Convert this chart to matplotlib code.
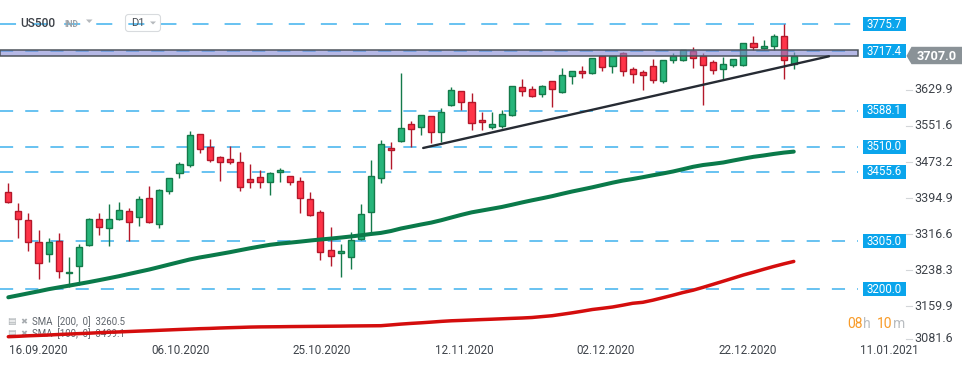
import matplotlib
matplotlib.use('Agg')
import matplotlib.pyplot as plt
from matplotlib.patches import Rectangle, Polygon, FancyBboxPatch

plt.rcParams['font.family'] = ['Roboto', 'DejaVu Sans']

# ---------------- data ----------------
opens = [3410.7, 3369.4, 3349.9, 3302.1, 3276.0, 3304.9, 3234.7, 3250.0, 3295.6, 3352.1,
         3332.5, 3352.1, 3369.4, 3356.4, 3397.7, 3341.2, 3412.9, 3452.0, 3469.4, 3536.7,
         3508.5, 3486.8, 3482.4, 3475.9, 3439.0, 3443.3, 3432.4, 3454.2, 3445.5, 3434.6,
         3395.5, 3367.3, 3284.7, 3278.2, 3269.5, 3308.6, 3367.3, 3441.1, 3506.3, 3521.5,
         3558.5, 3551.9, 3575.8, 3541.1, 3599.7, 3630.1, 3606.2, 3567.1, 3551.9, 3554.1,
         3578.0, 3638.8, 3634.5, 3623.6, 3651.9, 3628.0, 3662.7, 3673.6, 3669.3, 3706.2,
         3684.5, 3712.7, 3677.9, 3671.4, 3684.5, 3651.9, 3697.5, 3697.5, 3717.0, 3706.2,
         3693.1, 3677.9, 3686.6, 3686.6, 3734.4, 3723.5, 3727.9, 3749.6, 3688.8]
highs = [3430.3, 3386.8, 3365.1, 3328.2, 3310.8, 3321.7, 3269.5, 3297.8, 3354.0, 3365.1,
         3384.7, 3389.0, 3376.0, 3402.0, 3424.4, 3417.2, 3442.5, 3475.9, 3543.9, 3537.5,
         3526.5, 3489.0, 3511.3, 3498.3, 3472.2, 3458.5, 3454.2, 3462.9, 3447.0, 3443.3,
         3410.7, 3372.3, 3335.3, 3298.4, 3323.8, 3385.3, 3480.9, 3524.3, 3520.0, 3669.3,
         3565.6, 3579.0, 3576.5, 3593.2, 3638.8, 3631.0, 3625.8, 3584.5, 3584.5, 3588.9,
         3642.0, 3656.2, 3641.0, 3643.2, 3652.5, 3680.1, 3674.5, 3684.5, 3703.0, 3707.0,
         3707.0, 3714.9, 3682.3, 3675.8, 3699.7, 3698.5, 3712.7, 3720.0, 3725.7, 3712.7,
         3697.5, 3704.0, 3700.5, 3735.0, 3749.6, 3740.9, 3754.0, 3775.7, 3714.9]
lows = [3386.8, 3312.1, 3283.8, 3221.7, 3259.9, 3223.9, 3205.6, 3209.3, 3293.0, 3318.6,
        3294.7, 3350.0, 3304.9, 3338.2, 3344.0, 3333.8, 3407.7, 3441.1, 3466.3, 3495.5,
        3475.9, 3435.9, 3472.9, 3414.2, 3420.7, 3420.7, 3405.5, 3433.8, 3427.2, 3365.1,
        3359.0, 3263.6, 3251.3, 3227.4, 3244.7, 3307.0, 3321.7, 3431.6, 3460.7, 3520.0,
        3509.8, 3534.6, 3517.2, 3520.7, 3599.0, 3588.9, 3545.4, 3545.4, 3547.6, 3549.8,
        3577.0, 3619.3, 3617.1, 3617.1, 3595.4, 3627.0, 3645.4, 3658.4, 3668.0, 3674.9,
        3669.3, 3662.7, 3647.5, 3632.3, 3647.5, 3647.5, 3691.0, 3695.0, 3680.1, 3599.7,
        3667.1, 3654.0, 3682.3, 3686.0, 3719.2, 3721.4, 3719.2, 3656.2, 3677.9]
closes = [3390.3, 3352.1, 3302.1, 3256.5, 3302.1, 3239.1, 3238.2, 3291.2, 3352.1, 3334.7,
          3352.1, 3371.6, 3345.5, 3395.5, 3345.5, 3415.1, 3441.1, 3471.6, 3534.6, 3504.1,
          3480.2, 3475.9, 3475.9, 3421.6, 3432.4, 3432.4, 3452.0, 3458.5, 3432.4, 3397.7,
          3360.8, 3281.7, 3271.7, 3282.6, 3306.4, 3362.9, 3446.1, 3515.0, 3502.0, 3549.8,
          3547.6, 3578.0, 3541.1, 3584.5, 3632.3, 3606.2, 3560.6, 3562.8, 3558.5, 3580.2,
          3641.0, 3630.1, 3619.3, 3641.0, 3634.5, 3664.9, 3673.6, 3669.3, 3701.8, 3682.3,
          3706.2, 3673.6, 3667.1, 3664.9, 3654.0, 3697.5, 3706.2, 3719.2, 3701.8, 3686.6,
          3675.8, 3688.8, 3699.7, 3734.4, 3725.7, 3727.9, 3749.6, 3697.5, 3707.0]
sma100 = [3182.6, 3186.9, 3191.3, 3195.6, 3200.2, 3204.1, 3207.8, 3211.7, 3215.6, 3219.8,
          3224.1, 3228.5, 3233.4, 3238.2, 3243.0, 3248.4, 3253.9, 3259.3, 3264.7, 3269.1,
          3272.8, 3276.7, 3280.6, 3284.9, 3289.1, 3293.0, 3296.7, 3299.3, 3301.4, 3303.6,
          3306.0, 3308.2, 3310.1, 3312.3, 3314.7, 3317.3, 3320.1, 3322.5, 3326.6, 3332.1,
          3336.4, 3340.8, 3344.9, 3350.1, 3356.0, 3361.8, 3367.1, 3371.0, 3374.9, 3378.8,
          3383.6, 3388.6, 3393.3, 3397.7, 3402.3, 3407.5, 3412.5, 3417.0, 3421.6, 3426.6,
          3431.6, 3436.1, 3439.6, 3443.5, 3447.7, 3451.6, 3455.9, 3460.9, 3466.1, 3470.0,
          3472.6, 3475.5, 3479.8, 3483.9, 3487.8, 3490.7, 3494.0, 3496.9, 3499.1]
sma200 = [3097.0, 3097.9, 3099.0, 3099.8, 3100.7, 3101.8, 3102.7, 3103.7, 3104.6, 3105.7,
          3106.6, 3107.4, 3108.3, 3109.2, 3110.0, 3110.9, 3111.8, 3112.7, 3113.5, 3114.4,
          3115.0, 3115.9, 3116.6, 3117.2, 3117.9, 3118.3, 3118.5, 3118.7, 3119.0, 3119.2,
          3119.4, 3119.6, 3119.8, 3120.0, 3120.3, 3120.5, 3120.7, 3120.9, 3122.6, 3124.4,
          3125.9, 3127.2, 3128.7, 3130.3, 3131.6, 3132.4, 3133.3, 3134.2, 3135.0, 3135.9,
          3136.8, 3137.6, 3138.7, 3140.7, 3142.6, 3145.7, 3148.9, 3152.4, 3156.1, 3158.7,
          3161.5, 3165.4, 3169.6, 3171.7, 3176.3, 3181.7, 3187.2, 3193.0, 3198.0, 3204.3,
          3210.9, 3217.6, 3224.3, 3231.1, 3237.1, 3243.4, 3249.5, 3255.2, 3260.5]

levels = [3775.7, 3717.4, 3588.1, 3510.0, 3455.6, 3305.0, 3200.0]
level_labels = ['3775.7', '3717.4', '3588.1', '3510.0', '3455.6', '3305.0', '3200.0']
zone = [3707.5, 3720.5]
price_ticks = [3629.9, 3551.6, 3473.2, 3394.9, 3316.6, 3238.3, 3159.9, 3081.6]
date_labels = ['16.09.2020', '06.10.2020', '25.10.2020', '12.11.2020',
               '02.12.2020', '22.12.2020', '11.01.2021']
date_pos = [3.0, 17.08, 31.16, 45.24, 59.32, 73.4, 87.48]
trend_x = [41.2, 81.5]
trend_y = [3507.0, 3706.2]
last_price = 3707.0
sma_legend = ['SMA  [200,  0]  3260.5', 'SMA  [100,  0]  3499.1']
symbol = 'US500'
timeframe = 'D1'

# ---------------- layout helpers ----------------
W, H = 974, 368
X0, DX = 8.3, 10.07            # pixel of first candle, pixel per candle
Y0, DY = 3828.49, 2.1725       # value at top pixel, value per pixel


def px2i(px):
    return (px - X0) / DX


fig = plt.figure(figsize=(W / 100, H / 100), dpi=100)
fig.patch.set_facecolor('white')
ax = fig.add_axes([0, 0, 1, 1])
ax.set_xlim(px2i(0), px2i(W))
ax.set_ylim(Y0 - DY * H, Y0)
ax.axis('off')

ov = fig.add_axes([0, 0, 1, 1])
ov.set_xlim(0, W)
ov.set_ylim(H, 0)
ov.axis('off')
ov.patch.set_alpha(0)

XR = px2i(858)
XL = px2i(0)

# ---------------- horizontal levels ----------------
lc = '#3fb2ee'
for lv in levels:
    dash = (0, (10.5, 10.5)) if lv == levels[0] else (0, (8.6, 7.9))
    ax.plot([XL, XR], [lv, lv], color=lc, lw=1.1, linestyle=dash, zorder=2)

# zone band
ax.add_patch(Rectangle((XL, zone[0]), XR - XL, zone[1] - zone[0],
                       facecolor='#848ad4', alpha=0.6, edgecolor='none', zorder=5))
ax.add_patch(Rectangle((XL, zone[0]), XR - XL, zone[1] - zone[0],
                       facecolor='none', edgecolor='#4d535b', lw=1.1, zorder=6))

# ---------------- candles ----------------
g_fill, g_edge = '#27b57a', '#147a4a'
r_fill, r_edge = '#ff3448', '#b3182a'
for i, (o, h, l, c) in enumerate(zip(opens, highs, lows, closes)):
    up = c >= o
    fc, ec = (g_fill, g_edge) if up else (r_fill, r_edge)
    ax.plot([i, i], [l, h], color=ec, lw=1.0, zorder=3, solid_capstyle='butt')
    lo, hi = min(o, c), max(o, c)
    ax.bar(i, max(hi - lo, 1.0), bottom=lo, width=0.6, color=fc,
           edgecolor=ec, linewidth=1.0, zorder=4)

# ---------------- moving averages & trend line ----------------
idx = list(range(len(sma100)))
ax.plot(idx, sma100, color='#0a7a4a', lw=2.9, zorder=7, solid_capstyle='round')
ax.plot(idx, sma200, color='#d40d0d', lw=2.5, zorder=7, solid_capstyle='round')
ax.plot(trend_x, trend_y, color='#262b33', lw=1.7, zorder=8, solid_capstyle='round')

# ---------------- right price scale ----------------
def vy(v):
    return (Y0 - v) / DY

for lv, lab in zip(levels, level_labels):
    y = vy(lv)
    ov.add_patch(Rectangle((862.7, y - 6.9), 43, 13.8, facecolor='#0aa5ec',
                           edgecolor='none', zorder=3))
    ov.text(884.2, y + 0.3, lab, color='white', fontsize=8.3, ha='center',
            va='center', zorder=4)

for k, pv in enumerate(price_ticks):
    y = vy(pv) - 1.5 if k < len(price_ticks) - 1 else 338.5
    ov.plot([905.5, 911.5], [y, y], color='#d3d6d9', lw=0.8, zorder=3)
    ov.text(914, y, f'{pv:.1f}', color='#3e434a', fontsize=9, ha='left',
            va='center', zorder=4)

# current price tag
yp = vy(last_price)
ov.add_patch(Polygon([(906.5, yp), (911.5, 46.8), (962, 46.8), (962, 64.2), (911.5, 64.2)],
                     closed=True, facecolor='#8a9297', edgecolor='none', zorder=5))
ov.text(937, yp + 0.3, f'{last_price:.1f}', color='white', fontsize=9.2,
        fontweight='bold', ha='center', va='center', zorder=6)

# countdown
ov.text(847, 328.5, '08', color='#f89b28', fontsize=10, ha='left', va='baseline')
ov.text(863.5, 328.5, 'h', color='#b9bdc1', fontsize=10, ha='left', va='baseline')
ov.text(876.5, 328.5, '10', color='#f89b28', fontsize=10, ha='left', va='baseline')
ov.text(892.5, 328.5, 'm', color='#b9bdc1', fontsize=10, ha='left', va='baseline')

# ---------------- date axis ----------------
for p, lab in zip(date_pos, date_labels):
    ax.text(p, Y0 - DY * 351, lab, color='#3f444b', fontsize=8.4, ha='center',
            va='center')

# ---------------- header ----------------
ov.text(20.5, 23.5, symbol, color='#3c4047', fontsize=8.5, fontweight='medium',
        ha='left', va='center', zorder=4)
ov.text(64, 24.3, 'IND', color='#9ea3a8', fontsize=6.2, fontweight='bold',
        ha='left', va='center', zorder=4)
ov.add_patch(Polygon([(86, 19.5), (92.5, 19.5), (89.25, 23)], closed=True,
                     facecolor='#b5b9bd', edgecolor='none', zorder=4))
ov.add_patch(FancyBboxPatch((125.5, 14.5), 35, 17, boxstyle='round,pad=0,rounding_size=3',
                            facecolor='none', edgecolor='#d8dbde', lw=0.8, zorder=4))
ov.text(131, 23.5, timeframe, color='#4a4f56', fontsize=8, ha='left', va='center',
        zorder=5)
ov.add_patch(Polygon([(150, 21.5), (156, 21.5), (153, 24.5)], closed=True,
                     facecolor='#b5b9bd', edgecolor='none', zorder=5))

# ---------------- SMA legend (under the lines) ----------------
for k, txt in enumerate(sma_legend):
    y = 321.5 + 11.8 * k
    ax.text(7, y, '\u25a4', transform=ov.transData, color='#a7acb0', fontsize=6.5,
            ha='left', va='center', zorder=1, family=['DejaVu Sans'])
    ax.text(20.5, y, '\u2716', transform=ov.transData, color='#a7acb0', fontsize=6,
            ha='left', va='center', zorder=1, family=['DejaVu Sans'])
    ax.text(32, y, txt, transform=ov.transData, color='#5f656c', fontsize=6.9,
            ha='left', va='center', zorder=1)

fig.savefig('out.png', dpi=100, facecolor='white')
